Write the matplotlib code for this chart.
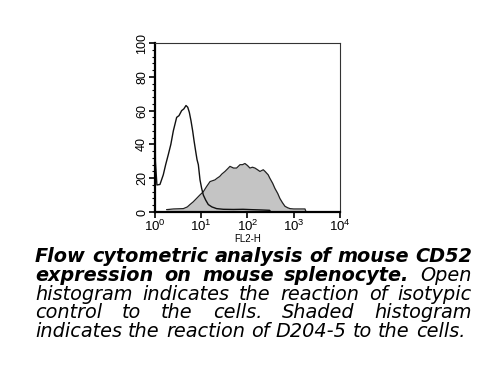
import numpy as np
import matplotlib
matplotlib.use("Agg")
import matplotlib.pyplot as plt
from matplotlib.ticker import FixedLocator, NullFormatter

plt.rcParams['font.family'] = ['Liberation Sans', 'DejaVu Sans']
plt.rcParams['mathtext.fontset'] = 'custom'
plt.rcParams['mathtext.rm'] = 'Liberation Sans'
plt.rcParams['mathtext.it'] = 'Liberation Sans:italic'

# Open histogram (isotype control)
open_x = [1.0, 1.02, 1.1, 1.28, 1.51, 1.7, 1.94, 2.2, 2.49, 2.94, 3.3, 3.77, 4.2, 4.68,
          5.1, 5.52, 6.0, 6.52, 7.0, 7.57, 8.1, 8.65, 9.4, 10.2, 11.1, 12.5, 14.2, 17.0,
          21.5, 30, 50, 80, 120, 200, 300, 320]
open_y = [68, 30, 16, 16.3, 22, 28, 34, 40, 48, 56, 57, 60, 61, 63,
          62, 59, 54, 48, 42, 36, 31, 28, 19, 14, 10, 7, 4.4, 3,
          2, 1.6, 1.5, 1.6, 1.4, 1.2, 1.0, 0]

# Shaded histogram (D204-5)
shade_x = [1.79, 2.5, 4.1, 5.0, 5.7, 6.7, 7.9, 9.3, 11.1, 13.0, 15.5, 17.5, 19.8, 22, 25, 28,
           32.6, 37, 41.8, 50, 58, 69, 78, 88, 100, 113, 128, 145, 165, 186, 219,
           240, 259, 280, 304, 350, 391, 450, 502, 570, 645, 740, 829, 1000, 1300, 1750, 1850]
shade_y = [1.4, 1.8, 2, 3, 4.4, 6, 8, 10, 12, 15, 18, 18.5, 19, 20, 21, 22.5,
           24, 25.5, 27, 26, 26, 28, 28, 28.7, 27.5, 26, 26.5, 26, 25, 24, 25,
           24, 23, 22, 20, 17, 14, 11, 8, 5.5, 3.4, 2.5, 2, 1.8, 1.8, 1.8, 0]

y_ticks = [0, 20, 40, 60, 80, 100]
x_ticks = [1, 10, 100, 1000, 10000]
x_ticklabels = [r'$10^0$', r'$10^1$', r'$10^2$', r'$10^3$', r'$10^4$']
x_label = 'FL2-H'

caption = [
    [("Flow cytometric analysis of mouse CD52", 'bold')],
    [("expression on mouse splenocyte.", 'bold'), ("Open", 'normal')],
    [("histogram indicates the reaction of isotypic", 'normal')],
    [("control to the cells. Shaded histogram", 'normal')],
    [("indicates the reaction of D204-5 to the cells.", 'normal')],
]
caption_font = ['DejaVu Sans']

W, H = 500, 376
fig = plt.figure(figsize=(W / 100, H / 100), dpi=100)
ax = fig.add_axes([155 / W, 1 - 212 / H, (340 - 155) / W, (212 - 43) / H])

ax.set_xscale('log')
ax.fill_between(shade_x, shade_y, 0, color='#c4c4c4', linewidth=0)
ax.plot(shade_x, shade_y, color='#222222', linewidth=0.9)
ax.plot(open_x, open_y, color='#111111', linewidth=1.0)

ax.set_xlim(1, 10000)
ax.set_ylim(0, 100)
ax.set_yticks(y_ticks)
ax.set_yticklabels([str(v) for v in y_ticks], rotation=90, va='center', fontsize=9)
ax.yaxis.set_minor_locator(FixedLocator(np.arange(0, 101, 4)))
ax.set_xticks(x_ticks)
ax.set_xticklabels(x_ticklabels, fontsize=9.5)
ax.xaxis.set_minor_formatter(NullFormatter())
ax.tick_params(axis='both', which='major', direction='out', length=4, width=1.2, pad=1)
ax.tick_params(axis='both', which='minor', direction='out', length=2, width=0.8)
ax.set_xlabel(x_label, fontsize=7, labelpad=0)

ax.spines['left'].set_linewidth(1.6)
ax.spines['bottom'].set_linewidth(1.6)
ax.spines['top'].set_linewidth(0.8)
ax.spines['right'].set_linewidth(0.8)
for s in ['top', 'right']:
    ax.spines[s].set_color('#333333')

# Justified caption
renderer = fig.canvas.get_renderer()
left_px, right_px = 35, 472
top_base = 262
line_gap = 18.75


def measure(word, weight, fs):
    t = fig.text(0, 0, word, fontsize=fs, style='italic', weight=weight,
                 family=caption_font)
    w = t.get_window_extent(renderer).width
    t.remove()
    return w

# font size so that line 1 fits the text block naturally
fs = 12.0
words1 = caption[0][0][0].split(' ')
for _ in range(4):
    space = measure('a a', 'bold', fs) - measure('aa', 'bold', fs)
    total = sum(measure(w, 'bold', fs) for w in words1) + (len(words1) - 1) * space
    fs = fs * (right_px - left_px) / total

for i, line in enumerate(caption):
    words = []
    for seg, weight in line:
        for w in seg.split(' '):
            words.append((w, weight))
    widths = [measure(w, wt, fs) for w, wt in words]
    y_px = top_base + i * line_gap
    if i == len(caption) - 1:
        gap = measure('a a', 'normal', fs) - measure('aa', 'normal', fs)
    else:
        gap = (right_px - left_px - sum(widths)) / (len(words) - 1)
    x = left_px
    for (w, wt), wd in zip(words, widths):
        fig.text(x / W, 1 - y_px / H, w, fontsize=fs, style='italic', weight=wt,
                 family=caption_font, ha='left', va='baseline', color='black')
        x += wd + gap

fig.savefig('out.png', dpi=100)
